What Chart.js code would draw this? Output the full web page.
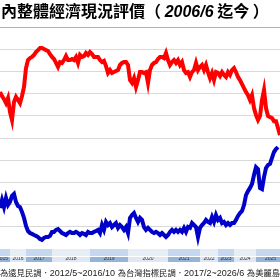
<!DOCTYPE html>
<html>
<head>
<meta charset="utf-8">
<script src="https://cdn.jsdelivr.net/npm/chart.js@4/dist/chart.umd.min.js"></script>
<style>
html,body{margin:0;padding:0;background:#fff;overflow:hidden;}
#wrap{position:relative;width:280px;height:280px;overflow:hidden;}
#c{position:absolute;left:0;top:0;}
#title{position:absolute;left:1px;top:0px;white-space:nowrap;font-family:"Noto Sans CJK TC","Noto Sans CJK SC",sans-serif;font-weight:bold;font-size:16px;line-height:20px;color:#000;}
#title .num{font-family:"Liberation Sans",Arial,sans-serif;font-style:italic;font-weight:bold;}
#foot{position:absolute;left:0;top:265px;white-space:nowrap;line-height:12px;color:#222;}
#foot .cjk{font-family:"Noto Sans CJK TC",sans-serif;font-size:8.3px;}
#foot .lat{font-family:"Liberation Sans",Arial,sans-serif;font-size:9px;}
</style>
</head>
<body>
<div id="wrap">
<canvas id="c" width="280" height="280"></canvas>
<div id="title">內整體經濟現況評價（ <span class="num">2006/6</span> 迄今 ）</div>
<div id="foot"><span class="cjk">為遠見民調．</span><span class="lat">2012/5~2016/10 </span><span class="cjk">為台灣指標民調．</span><span class="lat">2017/2~2026/6 </span><span class="cjk">為美麗島民調</span></div>
</div>
<script>
// 不好 (red) series, percent
const badSeries = [70.7,68.9,67.5,65.7,68,61.7,58.1,66.2,68.5,67.1,65.7,68.9,73,81.5,85.1,86,86.5,87.4,88.7,89.6,
90.5,90.5,90.1,89.6,89.2,87.8,86.5,85.6,83.8,82,84.2,83.8,85.1,86.9,85.1,85.1,85.6,85.1,86.5,83.8,
87.4,86.5,86.9,88.3,87.4,88.7,87.8,86.5,86.5,86.5,85.1,84.2,84.7,82.4,79.3,80.6,79.3,79.7,80.2,80.6,
82.9,83.8,84.2,84.2,82.9,76.1,74.8,77,73,76.1,79.7,79.7,79.3,79.7,74.8,80.6,82.9,83.8,84.2,85.6,
86.5,86.5,86,88.3,85.1,82.9,84.2,85.1,83.8,85.1,82.9,84.2,80.6,79.3,79.7,77.5,79.7,80.6,83.8,80.6,
82,82.9,80.6,82.9,79.7,77,79.3,76.1,79.7,79.3,77.9,79.7,78.4,77.5,79.7,78.4,80.6,81.5,79.7,77.5,
76.1,74.3,72.5,70.7,69.3,67.1,69.3,63.5,60.3,58.1,59.9,67.1,71.6,63.5,59.9,59.4,59,57.6,57.6,54.5,51.3];
// 好 (blue) series, percent
const goodSeries = [18.5,22.1,18.9,23,19.8,21.2,23.9,24.8,21.2,19.4,18.9,16.7,14,10.4,8.1,7.2,6.8,6.3,5.9,5.4,
4.5,4.1,5,5.4,5.4,5.9,7.7,7.7,8.6,9,8.1,7.2,6.8,6.3,7.2,7.7,7.2,7.2,7.7,7.2,
6.3,7.2,6.8,6.3,7.7,7.2,7.2,7.7,8.1,8.6,7.2,10.8,8.6,12.2,10.8,11.7,9.9,10.8,11.7,9.5,
10.8,9.9,8.6,9.9,7.2,14,15.3,16.2,14,12.2,14,13.1,9.9,8.6,9.5,8.6,7.7,7.2,7.7,7.2,
6.3,7.2,6.3,5.4,6.3,7.7,8.6,7.7,8.6,7.7,8.6,7.7,9.5,7.7,9.9,9.5,11.7,10.8,9.9,5.4,
9.5,10.8,11.7,13.1,12.2,11.7,14.4,12.2,15.3,13.1,14,11.7,12.2,10.8,11.7,10.8,11.7,11.7,13.1,14.9,
16.2,17.1,19.8,24.3,26.1,27.5,29.3,33.3,36.9,36,27.5,27,32.4,36.5,37.8,38.3,41,43.7,45,45.9];
const surveyIndex = badSeries.map((_, i) => String(i));
const yearLabels = ['2015','2016','2017','2018','2019','2020','2021','2022','2023','2024','2025'];
const yearStartIdx = [0,5,13,26,45,64,84,100,109,117,128];
const yTicks = [0,10,20,30,40,50,60,70,80,90,100];

const bandPlugin = {
  id: 'band',
  afterDraw(chart) {
    const ctx = chart.ctx, xs = chart.scales.x, area = chart.chartArea;
    const top = area.bottom, h1 = 7, h2 = 6;
    ctx.save();
    for (let i = 0; i < yearLabels.length; i++) {
      let x0 = i === 0 ? -5 : xs.getPixelForValue(yearStartIdx[i]);
      let x1 = i < yearLabels.length - 1 ? xs.getPixelForValue(yearStartIdx[i + 1]) : area.right + 5;
      const shaded = i % 2 === 0;
      ctx.fillStyle = shaded ? '#c6d8ee' : '#e8eef6';
      ctx.fillRect(x0, top, x1 - x0, h1);
      ctx.fillStyle = shaded ? '#95b4da' : '#dfe7f2';
      ctx.fillRect(x0, top + h1, x1 - x0, h2);
      ctx.fillStyle = '#333';
      ctx.font = '5px "Liberation Sans"';
      ctx.textAlign = 'center';
      ctx.textBaseline = 'middle';
      ctx.fillText(yearLabels[i], (x0 + x1) / 2, top + h1 + h2 / 2);
    }
    ctx.strokeStyle = '#ffffff';
    ctx.lineWidth = 1;
    ctx.beginPath();
    ctx.moveTo(0, top + h1 + 0.5); ctx.lineTo(280, top + h1 + 0.5);
    ctx.stroke();
    ctx.restore();
  }
};

new Chart(document.getElementById('c'), {
  type: 'line',
  data: {
    labels: surveyIndex,
    datasets: [
      { label: '不好', data: badSeries, borderColor: '#ff0000', borderWidth: 4, pointRadius: 0, tension: 0, fill: false },
      { label: '好', data: goodSeries, borderColor: '#0000c8', borderWidth: 4, pointRadius: 0, tension: 0, fill: false }
    ]
  },
  options: {
    responsive: false,
    animation: false,
    devicePixelRatio: 1,
    layout: { padding: { top: 27, bottom: 31, left: 0, right: 0 } },
    plugins: { legend: { display: false }, tooltip: { enabled: false } },
    scales: {
      x: { display: false, offset: false },
      y: {
        min: yTicks[0], max: yTicks[yTicks.length - 1],
        afterBuildTicks: (s) => { s.ticks = yTicks.map(v => ({ value: v })); },
        afterFit: (s) => { s.width = 0; },
        ticks: { display: false },
        border: { display: false },
        grid: { color: (c) => c.index === yTicks.length - 1 ? '#b0b0b0' : '#d9d9d9', lineWidth: 1, drawTicks: false }
      }
    }
  },
  plugins: [bandPlugin]
});
</script>
</body>
</html>
